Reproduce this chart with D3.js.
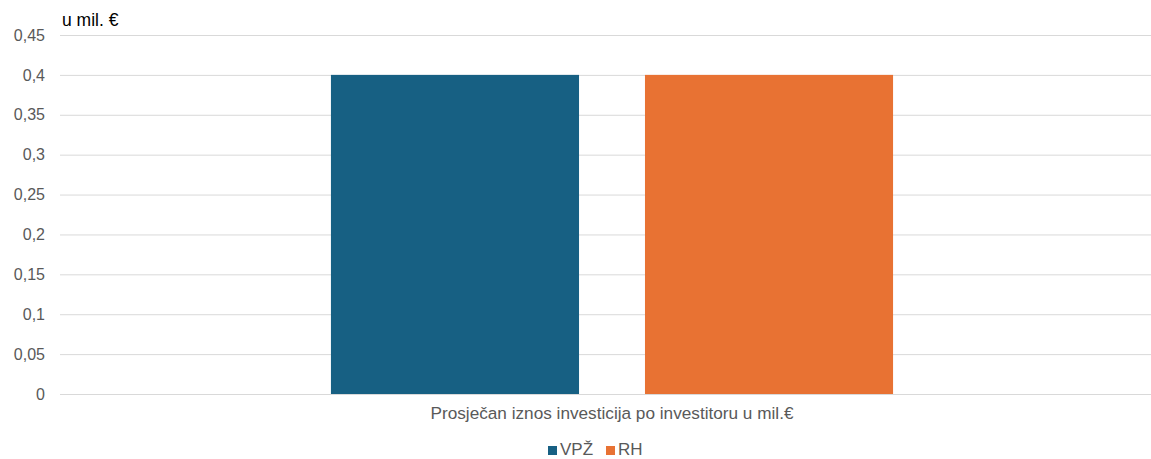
<!DOCTYPE html>
<html><head><meta charset="utf-8">
<script src="https://cdn.jsdelivr.net/npm/d3@7"></script>
<style>body{margin:0;background:#fff}svg{display:block;font-family:"Liberation Sans",Arial,sans-serif}</style>
</head><body><svg id="c" width="1151" height="459"></svg>
<script>
const categories = ["Prosječan iznos investicija po investitoru u mil.€"];
const seriesNames = ["VPŽ", "RH"];
const seriesColors = ["#176083", "#E87233"];
const valuesVPZ = [0.4];
const valuesRH = [0.4];
const yTicks = [0, 0.05, 0.1, 0.15, 0.2, 0.25, 0.3, 0.35, 0.4, 0.45];
const unitLabel = "u mil. €";

(function () {
const series = [valuesVPZ, valuesRH];
const svg = d3.select("#c");
const mLeft = 60, mRight = 1164, mTop = 35, mBottom = 394;
const y = d3.scaleLinear().domain([0, 0.45]).range([mBottom, mTop]);
const x0 = d3.scaleBand().domain(categories).range([mLeft, mRight]).paddingInner(0).paddingOuter(0.482);
const x1 = d3.scaleBand().domain(seriesNames).range([0, x0.bandwidth()]).paddingInner(0.21).paddingOuter(0);
const fmt = v => String(v).replace(".", ",");

const yAxis = svg.append("g").attr("transform", `translate(${mLeft},0)`)
  .call(d3.axisLeft(y).tickValues(yTicks).tickSize(-(1151 - mLeft)).tickFormat(fmt).tickPadding(15));
yAxis.select(".domain").remove();
yAxis.selectAll(".tick line").attr("stroke", "#d9d9d9").attr("stroke-width", 1);
yAxis.selectAll(".tick text").attr("fill", "#595959").attr("font-size", 16).attr("font-family", "Liberation Sans, Arial, sans-serif");

const g = svg.append("g");
categories.forEach((c, ci) => {
  seriesNames.forEach((s, si) => {
    g.append("rect")
      .attr("x", x0(c) + x1(s))
      .attr("y", y(series[si][ci]))
      .attr("width", x1.bandwidth())
      .attr("height", y(0) - y(series[si][ci]))
      .attr("fill", seriesColors[si]);
  });
  svg.append("text").attr("x", x0(c) + x0.bandwidth() / 2).attr("y", 419)
    .attr("text-anchor", "middle").attr("fill", "#595959").attr("font-size", 17.2).text(c);
});

svg.append("text").attr("x", 62).attr("y", 26).attr("fill", "#000").attr("font-size", 17.5).text(unitLabel);

const legend = svg.append("g");
const legX = [548, 606];
seriesNames.forEach((s, i) => {
  legend.append("rect").attr("x", legX[i]).attr("y", 446).attr("width", 9).attr("height", 9).attr("fill", seriesColors[i]);
  legend.append("text").attr("x", legX[i] + 12).attr("y", 455).attr("fill", "#595959").attr("font-size", 17).text(s);
});
})();
</script></body></html>
